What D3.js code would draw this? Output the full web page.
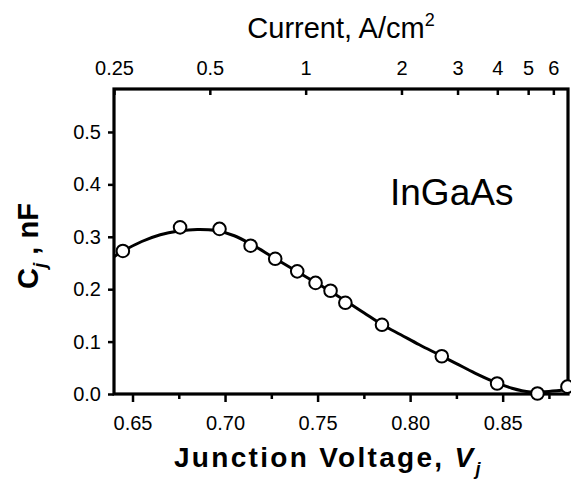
<!DOCTYPE html>
<html>
<head>
<meta charset="utf-8">
<script src="https://cdn.jsdelivr.net/npm/d3@7"></script>
<style>
  html, body { margin: 0; padding: 0; background: #fff; }
  text { font-family: "Liberation Sans", Arial, sans-serif; fill: #000; }
</style>
</head>
<body>
<svg id="chart" width="571" height="482"></svg>
<script>
// ---- data ----
const voltage     = [0.6448, 0.6757, 0.6970, 0.7138, 0.7271, 0.7390, 0.7489, 0.7570, 0.7650, 0.7848, 0.8171, 0.8470, 0.8688, 0.8850];
const capacitance = [0.273, 0.318, 0.315, 0.283, 0.258, 0.234, 0.212, 0.197, 0.174, 0.132, 0.072, 0.020, 0.001, 0.014];
// fitted curve as drawn in the reference
const fitVoltage  = [0.640, 0.645, 0.655, 0.665, 0.675, 0.685, 0.695, 0.705, 0.715, 0.725, 0.735, 0.745, 0.755, 0.765, 0.775, 0.785, 0.795, 0.805, 0.815, 0.825, 0.835, 0.845, 0.855, 0.865, 0.875, 0.885];
const fitCap      = [0.262, 0.273, 0.291, 0.304, 0.311, 0.314, 0.312, 0.302, 0.284, 0.263, 0.242, 0.221, 0.200, 0.178, 0.155, 0.132, 0.113, 0.094, 0.076, 0.058, 0.040, 0.024, 0.011, 0.004, 0.005, 0.008];
const xMajorTicks = [0.65, 0.70, 0.75, 0.80, 0.85];
const xMinorTicks = [0.675, 0.725, 0.775, 0.825, 0.875];
const yTicks      = [0.0, 0.1, 0.2, 0.3, 0.4, 0.5];
const currentTicks = [0.25, 0.5, 1, 2, 3, 4, 5, 6];
const currentLabels = ["0.25", "0.5", "1", "2", "3", "4", "5", "6"];

// ---- layout ----
const L = 114, R = 568, T = 89, B = 394;
const svg = d3.select("#chart");

const x = d3.scaleLinear().domain([0.640, 0.8853]).range([L, R]);
const y = d3.scaleLinear().domain([0, 0.582]).range([B, T]);
const xTop = d3.scaleLog().domain([0.25, 6.67]).range([L, R]);

const tickFont = "20px";

// bottom axis major
const gB = svg.append("g").attr("transform", `translate(0,${B})`)
  .call(d3.axisBottom(x).tickValues(xMajorTicks).tickFormat(d3.format(".2f")).tickSize(8).tickSizeOuter(0).tickPadding(14));
gB.select(".domain").remove();
gB.selectAll("line").attr("stroke-width", 2.5);
gB.selectAll("text").style("font-size", tickFont);
// bottom minor
const gBm = svg.append("g").attr("transform", `translate(0,${B})`)
  .call(d3.axisBottom(x).tickValues(xMinorTicks).tickFormat("").tickSize(5).tickSizeOuter(0));
gBm.select(".domain").remove();
gBm.selectAll("line").attr("stroke-width", 2.5);

// left axis
const gL = svg.append("g").attr("transform", `translate(${L},0)`)
  .call(d3.axisLeft(y).tickValues(yTicks).tickFormat(d3.format(".1f")).tickSize(6).tickSizeOuter(0).tickPadding(7));
gL.select(".domain").remove();
gL.selectAll("line").attr("stroke-width", 2.5);
gL.selectAll("text").style("font-size", tickFont);

// top axis (current, log)
const gT = svg.append("g").attr("transform", `translate(0,${T})`)
  .call(d3.axisTop(xTop).tickValues(currentTicks).tickFormat((d, i) => currentLabels[i]).tickSize(-6).tickSizeOuter(0).tickPadding(14));
gT.select(".domain").remove();
gT.selectAll("line").attr("stroke-width", 2.5);
gT.selectAll("text").style("font-size", tickFont);

// frame
svg.append("rect").attr("x", L).attr("y", T).attr("width", R - L).attr("height", B - T)
  .attr("fill", "none").attr("stroke", "#000").attr("stroke-width", 3.2);

// clip
svg.append("clipPath").attr("id", "clip").append("rect")
  .attr("x", L).attr("y", T).attr("width", R - L).attr("height", B - T);

// fitted line
const fit = fitVoltage.map((v, i) => [v, fitCap[i]]);
svg.append("path").datum(fit)
  .attr("clip-path", "url(#clip)")
  .attr("fill", "none").attr("stroke", "#000").attr("stroke-width", 3)
  .attr("d", d3.line().x(d => x(d[0])).y(d => y(d[1])).curve(d3.curveCatmullRom));

// points
svg.append("g").selectAll("circle").data(voltage.map((v, i) => [v, capacitance[i]]))
  .join("circle")
  .attr("cx", d => x(d[0])).attr("cy", d => y(d[1])).attr("r", 6.3)
  .attr("fill", "#fff").attr("stroke", "#000").attr("stroke-width", 2);

// InGaAs label
svg.append("text").attr("x", 390).attr("y", 205).style("font-size", "37px").text("InGaAs");

// top title
const tt = svg.append("text").attr("x", 341).attr("y", 38).attr("text-anchor", "middle").style("font-size", "29px");
tt.append("tspan").text("Current, A/cm");
tt.append("tspan").attr("dy", -12).style("font-size", "18px").text("2");

// x title
const xt = svg.append("text").attr("x", 174).attr("y", 467).attr("text-anchor", "start")
  .style("font-size", "28px").style("font-weight", "bold").style("letter-spacing", "2.3px");
xt.append("tspan").text("Junction Voltage, ");
xt.append("tspan").style("font-style", "italic").text("V");
xt.append("tspan").attr("dy", 8).style("font-style", "italic").style("font-size", "18px").text("j");

// y title
const yt = svg.append("text").attr("transform", `translate(38,${246}) rotate(-90)`).attr("text-anchor", "middle")
  .style("font-size", "29px").style("font-weight", "bold");
yt.append("tspan").text("C");
yt.append("tspan").attr("dy", 8).style("font-style", "italic").style("font-size", "19px").text("j");
yt.append("tspan").attr("dy", -8).text(" , nF");
</script>
</body>
</html>
